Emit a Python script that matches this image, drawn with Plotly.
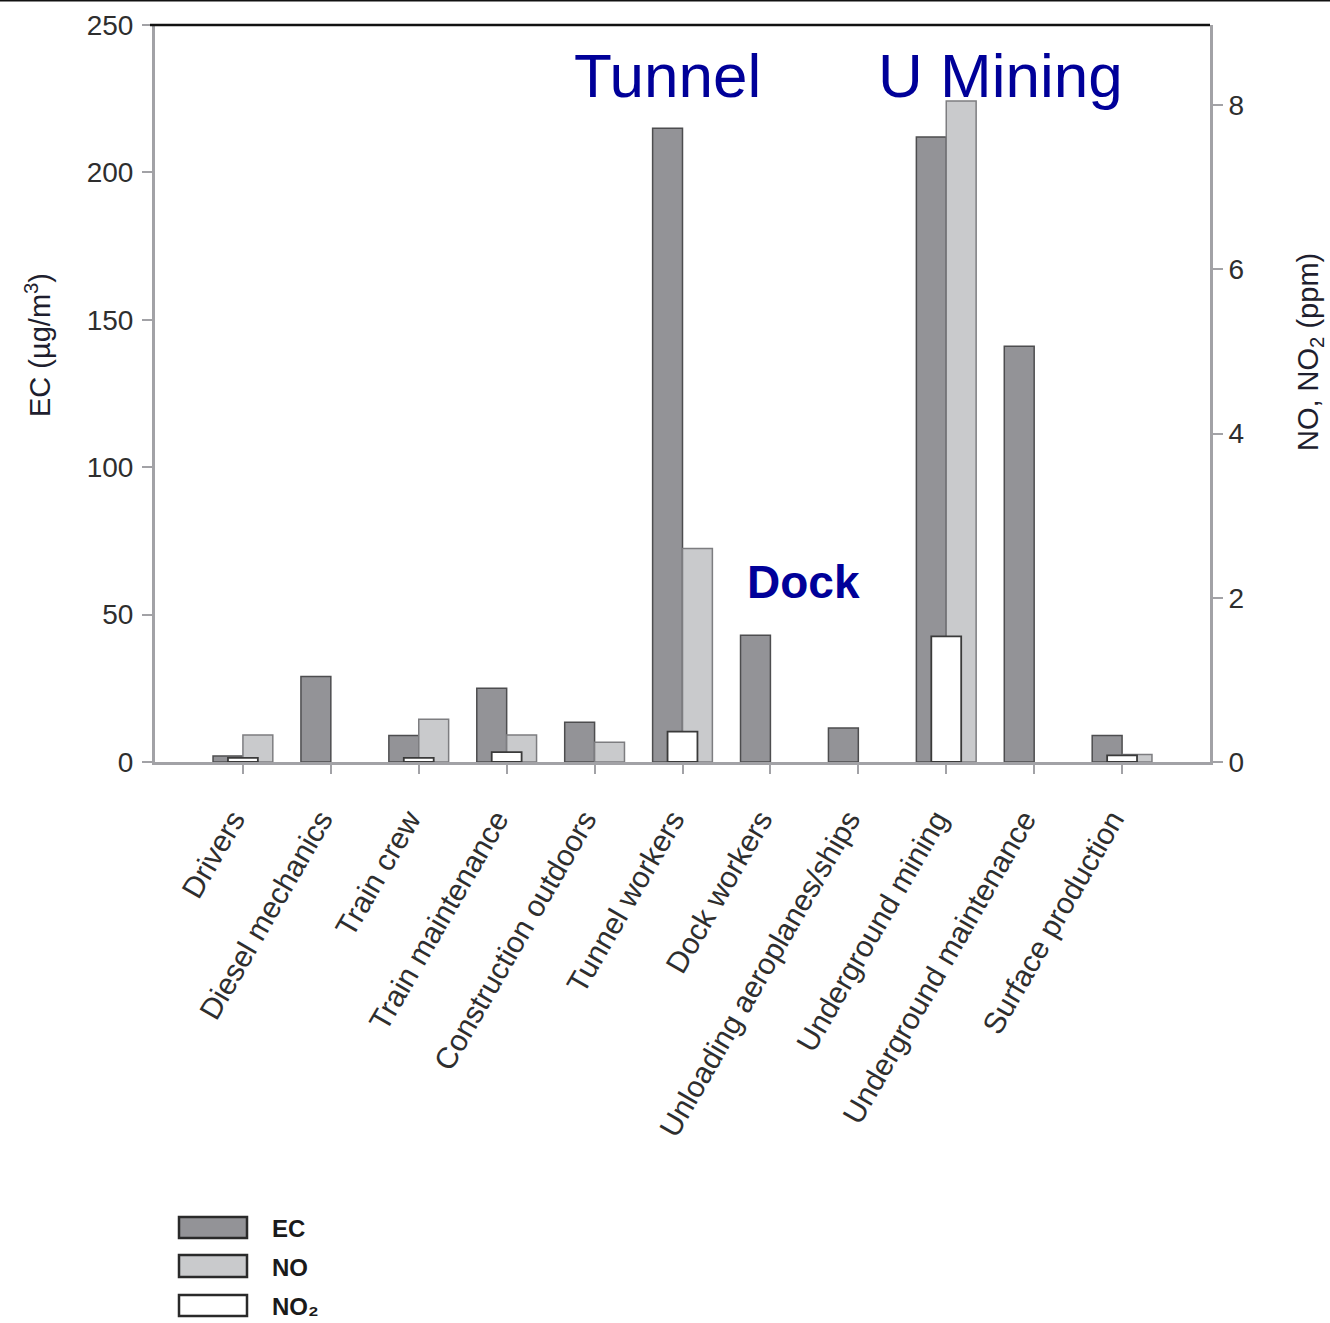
import plotly.graph_objects as go

# Occupational groups (x categories)
groups = [
    "Drivers", "Diesel mechanics", "Train crew", "Train maintenance",
    "Construction outdoors", "Tunnel workers", "Dock workers",
    "Unloading aeroplanes/ships", "Underground mining",
    "Underground maintenance", "Surface production",
]

# Elemental carbon, µg/m³ (left axis)
ec_values = [2, 29, 9, 25, 13.5, 215, 43, 11.5, 212, 141, 9]
# Nitric oxide, ppm (right axis)
no_values = [0.33, None, 0.52, 0.33, 0.24, 2.6, None, None, 8.05, None, 0.09]
# Nitrogen dioxide, ppm (right axis)
no2_values = [0.05, None, 0.05, 0.12, None, 0.37, None, None, 1.53, None, 0.08]

left_ticks = [0, 50, 100, 150, 200, 250]
right_ticks = [0, 2, 4, 6, 8]

FONT = "Liberation Sans, Arial, sans-serif"
AXIS_GREY = "#a2a2a6"
TEXT_GREY = "#2e2e2e"
TITLE_COL = "#1e1e2e"
BLUE = "#000099"

EC_FILL = "#939397"
NO_FILL = "#c9cacc"
NO2_FILL = "#ffffff"

BW = 0.34  # bar width in category units

fig = go.Figure()

fig.add_trace(go.Bar(
    x=groups, y=ec_values, name="EC", yaxis="y",
    offset=-BW, width=BW,
    marker=dict(color=EC_FILL, line=dict(color="#4d4d4f", width=1.5)),
))
fig.add_trace(go.Bar(
    x=groups, y=no_values, name="NO", yaxis="y2",
    offset=0, width=BW,
    marker=dict(color=NO_FILL, line=dict(color="#7d7d80", width=1.5)),
))
fig.add_trace(go.Bar(
    x=groups, y=no2_values, name="NO₂", yaxis="y2",
    offset=-BW / 2, width=BW,
    marker=dict(color=NO2_FILL, line=dict(color="#3a3a3a", width=1.8)),
))

L, R, T, B = 155, 120, 25, 561
W, H = 1330, 1323
plot_w = W - L - R
plot_h = H - T - B


def px_x(px):
    return (px - L) / plot_w


def px_y(py):
    return (H - B - py) / plot_h


shapes = [
    # black frame line along the top of the plot
    dict(type="line", xref="paper", yref="paper", x0=px_x(150), x1=1.0,
         y0=1, y1=1, line=dict(color="#111111", width=2.5)),
    # thin rule across the very top of the page
    dict(type="line", xref="paper", yref="paper", x0=px_x(0), x1=px_x(W),
         y0=px_y(0.5), y1=px_y(0.5), line=dict(color="#111111", width=2)),
]


def label(text, x, y, size, color, angle=0, xanchor="center"):
    return dict(text=text, xref="paper", yref="paper", x=px_x(x), y=px_y(y),
                xanchor=xanchor, yanchor="middle", showarrow=False,
                textangle=angle, font=dict(family=FONT, size=size, color=color))


annotations = [
    label("Tunnel", 667, 75, 62, BLUE),
    label("U Mining", 1000, 75, 62, BLUE),
    label("<b>Dock</b>", 803, 582, 46, BLUE),
    # axis titles
    label("EC (µg/m<sup>3</sup>)", 38, 345, 29, TITLE_COL, angle=-90),
    label("NO, NO<sub>2</sub> (ppm)", 1310, 352, 29, TITLE_COL, angle=-90),
]

# Legend keys: wide boxes with labels below the chart
legend_items = [
    ("EC", EC_FILL, 1217, 1238),
    ("NO", NO_FILL, 1255, 1277),
    ("NO₂", NO2_FILL, 1295, 1316),
]
for name, fill, y0, y1 in legend_items:
    shapes.append(dict(type="rect", xref="paper", yref="paper",
                       x0=px_x(179), x1=px_x(247), y0=px_y(y1), y1=px_y(y0),
                       fillcolor=fill, line=dict(color="#2a2a2a", width=2.5)))
    annotations.append(label(f"<b>{name}</b>", 270, (y0 + y1) / 2 + 1, 24,
                             "#1a1a1a", xanchor="left"))

fig.update_layout(
    width=W, height=H,
    margin=dict(l=L, r=R, t=T, b=B, autoexpand=False),
    paper_bgcolor="white", plot_bgcolor="white",
    barmode="overlay", showlegend=False,
    font=dict(family=FONT, color=TEXT_GREY),
    xaxis=dict(
        type="category", range=[-1, 11],
        showline=True, linecolor=AXIS_GREY, linewidth=3,
        ticks="outside", ticklen=9, tickwidth=2, tickcolor=AXIS_GREY,
        tickangle=-60, ticklabelstandoff=16, ticklabelshift=-10,
        tickfont=dict(family=FONT, size=30, color=TEXT_GREY),
        showgrid=False, zeroline=False, fixedrange=True,
    ),
    yaxis=dict(
        range=[0, 250], tickvals=left_ticks,
        showline=True, linecolor=AXIS_GREY, linewidth=3,
        ticks="outside", ticklen=10, tickwidth=2, tickcolor=AXIS_GREY,
        ticklabelstandoff=3,
        tickfont=dict(family=FONT, size=28, color=TEXT_GREY),
        showgrid=False, zeroline=False,
    ),
    yaxis2=dict(
        overlaying="y", side="right", range=[0, 8.974], tickvals=right_ticks,
        showline=True, linecolor=AXIS_GREY, linewidth=3,
        ticks="outside", ticklen=10, tickwidth=2, tickcolor=AXIS_GREY,
        tickfont=dict(family=FONT, size=28, color=TEXT_GREY),
        showgrid=False, zeroline=False,
    ),
    shapes=shapes,
    annotations=annotations,
)

fig.write_html("out.html")
